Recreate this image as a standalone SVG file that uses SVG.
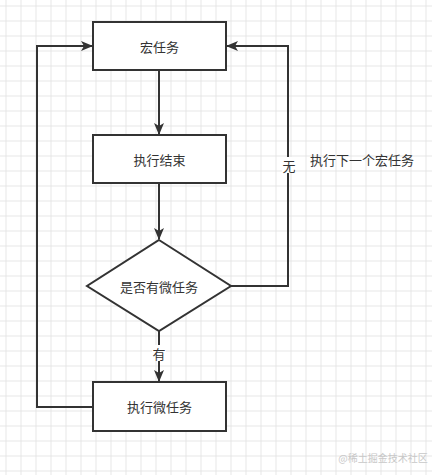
<svg xmlns="http://www.w3.org/2000/svg" width="432" height="475" viewBox="0 0 432 475">
  <defs>
    <pattern id="grid" x="5.5" y="5.5" width="15" height="15" patternUnits="userSpaceOnUse">
      <path d="M0 0.5H15M0.5 0V15" fill="none" stroke="#e6e6e6" stroke-width="1"/>
    </pattern>
    <marker id="arr" markerWidth="12" markerHeight="10" refX="11" refY="5" orient="auto" markerUnits="userSpaceOnUse">
      <path d="M0 0 L12 5 L0 10 L3 5 Z" fill="#333"/>
    </marker>
    <style>
      .box { fill: #fff; stroke: #333; stroke-width: 2; }
      .line { fill: none; stroke: #333; stroke-width: 2; }
      .t { font-family: "Noto Sans CJK SC", "Liberation Sans", sans-serif; font-size: 13px; fill: #333; text-anchor: middle; dominant-baseline: central; }
      .lbl { fill: #fff; }
    </style>
  </defs>
  <rect width="432" height="475" fill="#fff"/>
  <rect width="432" height="475" fill="url(#grid)"/>

  <g id="connectors">
    <path class="line" d="M159 71 V134" marker-end="url(#arr)"/>
    <path class="line" d="M159 183 V239" marker-end="url(#arr)"/>
    <path class="line" d="M159 331 V381" marker-end="url(#arr)"/>
    <path class="line" d="M231 286 H288 V46 H227" marker-end="url(#arr)"/>
    <path class="line" d="M93 407 H37 V46 H92" marker-end="url(#arr)"/>
    <rect class="lbl" x="152" y="345" width="14" height="16"/>
    <text class="t" x="159" y="353">有</text>
    <rect class="lbl" x="282" y="157" width="14" height="16"/>
    <text class="t" x="289" y="165">无</text>
  </g>

  <g id="n-macro">
    <rect class="box" x="93" y="22" width="133" height="48"/>
    <text class="t" x="159.5" y="46">宏任务</text>
  </g>
  <g id="n-done">
    <rect class="box" x="93" y="135" width="133" height="48"/>
    <text class="t" x="159.5" y="159">执行结束</text>
  </g>
  <g id="n-decision">
    <polygon class="box" points="159,240 231,286 159,331 87,286"/>
    <text class="t" x="159" y="286">是否有微任务</text>
  </g>
  <g id="n-micro">
    <rect class="box" x="93" y="382" width="133" height="49"/>
    <text class="t" x="159.5" y="406.5">执行微任务</text>
  </g>
  <g id="n-next-label">
    <text class="t" x="362" y="159">执行下一个宏任务</text>
  </g>
  <text x="383" y="457" font-family="Noto Sans CJK SC, Liberation Sans, sans-serif" font-size="10" fill="#c8c8c8" text-anchor="middle" dominant-baseline="central">@稀土掘金技术社区</text>
</svg>
